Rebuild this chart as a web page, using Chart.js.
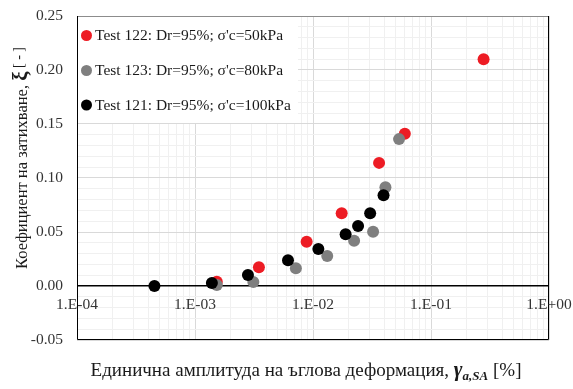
<!DOCTYPE html>
<html>
<head>
<meta charset="utf-8">
<script src="https://cdn.jsdelivr.net/npm/chart.js@4"></script>
<style>
  html, body { margin: 0; padding: 0; background: #fff; }
  #wrap { width: 573px; height: 389px; position: relative; }
</style>
</head>
<body>
<div id="wrap"><canvas id="chart" width="573" height="389"></canvas></div>
<script>
// Shear strain amplitude (%) and damping ratio (-) for each test
const seriesLabels = ["Test 122: Dr=95%; σ'c=50kPa", "Test 123: Dr=95%; σ'c=80kPa", "Test 121: Dr=95%; σ'c=100kPa"];
const seriesColors = ['#ed1c24', '#7f7f7f', '#000000'];

const strain122  = [0.00153, 0.00348, 0.00883, 0.0175, 0.0363, 0.0600, 0.279];
const damping122 = [0.004,   0.0173,  0.041,   0.0673, 0.114,  0.141,  0.210];

const strain123  = [0.00153, 0.00312, 0.00716, 0.0132, 0.0223, 0.0323, 0.0411, 0.0536];
const damping123 = [0.001,   0.0037,  0.0164,  0.0278, 0.042,  0.0503, 0.0914, 0.136];

const strain121  = [0.000453, 0.00139, 0.00281, 0.00614, 0.0111, 0.0189, 0.0241, 0.0305, 0.0396];
const damping121 = [0.0,      0.0028,  0.0102,  0.0238,  0.0343, 0.048,  0.0556, 0.0673, 0.084];

const xTickValues = [1e-4, 1e-3, 1e-2, 1e-1, 1];
const xTickLabels = ['1.E-04', '1.E-03', '1.E-02', '1.E-01', '1.E+00'];
const yMin = -0.05, yMax = 0.25, yStep = 0.01, yLabelStep = 0.05;

const serif = "'Liberation Serif', 'Times New Roman', serif";

function toPoints(xs, ys) { return xs.map((x, i) => ({ x: x, y: ys[i] })); }

const seriesData = [toPoints(strain122, damping122), toPoints(strain123, damping123), toPoints(strain121, damping121)];
// draw order: red at the back, black in front
const drawOrder = [3, 2, 1];

const datasets = seriesLabels.map((label, i) => ({
  label: label,
  data: seriesData[i],
  backgroundColor: seriesColors[i],
  borderWidth: 0,
  pointRadius: 6,
  pointHoverRadius: 6,
  order: drawOrder[i]
}));

function isDecade(v) {
  const l = Math.log10(v);
  return Math.abs(l - Math.round(l)) < 1e-9;
}
function isMultiple(v, step) {
  const r = v / step;
  return Math.abs(r - Math.round(r)) < 1e-6;
}

// legend box in the upper-left corner of the plot
const legendBox = {
  id: 'legendBox',
  beforeDatasetsDraw(chart) {
    const { ctx, chartArea } = chart;
    ctx.save();
    ctx.fillStyle = '#ffffff';
    ctx.fillRect(chartArea.left + 1, chartArea.top + 1, 220, 106);
    ctx.font = '15.5px ' + serif;
    ctx.textBaseline = 'middle';
    ctx.textAlign = 'left';
    const rows = [35.5, 70.5, 105];
    seriesLabels.forEach((label, i) => {
      ctx.fillStyle = seriesColors[i];
      ctx.beginPath();
      ctx.arc(chartArea.left + 9.5, rows[i], 5.5, 0, Math.PI * 2);
      ctx.fill();
      ctx.fillStyle = '#1a1a1a';
      ctx.fillText(label, chartArea.left + 18, rows[i] + 0.5);
    });
    ctx.restore();
  }
};

// frame, x tick labels on the zero line, and axis titles
const decorations = {
  id: 'decorations',
  afterDraw(chart) {
    const { ctx, chartArea, scales } = chart;
    const L = chartArea.left, R = chartArea.right, T = chartArea.top, B = chartArea.bottom;
    ctx.save();
    ctx.lineWidth = 1;
    ctx.strokeStyle = '#8c8c8c';
    ctx.beginPath(); ctx.moveTo(L, T + 0.5); ctx.lineTo(R, T + 0.5); ctx.stroke();
    ctx.strokeStyle = '#000000';
    ctx.beginPath();
    ctx.moveTo(L + 0.5, T); ctx.lineTo(L + 0.5, B - 0.5); ctx.lineTo(R - 0.5, B - 0.5); ctx.lineTo(R - 0.5, T);
    ctx.stroke();

    // x tick labels sit just under the zero line
    const y0 = scales.y.getPixelForValue(0);
    ctx.font = '15.5px ' + serif;
    ctx.fillStyle = '#333333';
    ctx.textAlign = 'center';
    ctx.textBaseline = 'middle';
    xTickValues.forEach((v, i) => {
      ctx.fillText(xTickLabels[i], scales.x.getPixelForValue(v), y0 + 18.5);
    });

    // x axis title with styled symbol
    const parts = [
      { t: 'Единична амплитуда на ъглова деформация, ', f: '19px ' + serif, dy: 0 },
      { t: 'γ', f: 'italic bold 21px ' + serif, dy: 0 },
      { t: 'a,SA', f: 'italic bold 13px ' + serif, dy: 4 },
      { t: ' [%]', f: '19px ' + serif, dy: 0 }
    ];
    let total = 0;
    parts.forEach(p => { ctx.font = p.f; p.w = ctx.measureText(p.t).width; total += p.w; });
    let x = 306 - total / 2;
    ctx.textAlign = 'left';
    ctx.textBaseline = 'alphabetic';
    ctx.fillStyle = '#1a1a1a';
    parts.forEach(p => { ctx.font = p.f; ctx.fillText(p.t, x, 376 + p.dy); x += p.w; });

    // y axis title, rotated
    const yparts = [
      { t: 'Коефициент на затихване, ', f: '16.5px ' + serif, dy: 0 },
      { t: 'ξ', f: 'bold 21px ' + serif, dy: 0 },
      { t: ' [ - ]', f: '14px ' + serif, dy: -4 }
    ];
    ctx.translate(27, 158);
    ctx.rotate(-Math.PI / 2);
    total = 0;
    yparts.forEach(p => { ctx.font = p.f; p.w = ctx.measureText(p.t).width; total += p.w; });
    x = -total / 2;
    yparts.forEach(p => { ctx.font = p.f; ctx.fillText(p.t, x, p.dy); x += p.w; });
    ctx.restore();
  }
};

new Chart(document.getElementById('chart'), {
  type: 'scatter',
  data: { datasets: datasets },
  options: {
    responsive: false,
    animation: false,
    devicePixelRatio: 1,
    layout: { padding: { left: 0, top: 16, right: 24, bottom: 0 } },
    plugins: { legend: { display: false }, tooltip: { enabled: false }, title: { display: false } },
    scales: {
      x: {
        type: 'logarithmic',
        position: 'bottom',
        min: xTickValues[0],
        max: xTickValues[xTickValues.length - 1],
        afterBuildTicks(scale) {
          const ticks = [];
          for (let d = 0; d < xTickValues.length; d++) {
            const base = xTickValues[d];
            ticks.push({ value: base });
            if (d < xTickValues.length - 1) {
              for (let m = 2; m <= 9; m++) ticks.push({ value: base * m });
            }
          }
          scale.ticks = ticks;
        },
        afterFit(scale) { scale.height = 49; },
        ticks: { display: false },
        border: { display: false },
        grid: {
          drawTicks: false,
          color: c => (c.tick && isDecade(c.tick.value)) ? '#d9d9d9' : '#f0f0f0',
          lineWidth: 1
        }
      },
      y: {
        type: 'linear',
        min: yMin,
        max: yMax,
        afterFit(scale) {
          scale.width = 77;
          scale.paddingTop = 0;
          scale.paddingBottom = 0;
        },
        ticks: {
          stepSize: yStep,
          autoSkip: false,
          padding: 14,
          color: '#333333',
          font: { family: serif, size: 15.5 },
          callback: v => isMultiple(v, yLabelStep) ? Number(v).toFixed(2) : ''
        },
        border: { display: false },
        grid: {
          drawTicks: false,
          color: c => {
            const v = c.tick ? c.tick.value : 1;
            if (Math.abs(v) < 1e-9) return '#000000';
            return isMultiple(v, yLabelStep) ? '#d9d9d9' : '#f0f0f0';
          },
          lineWidth: c => (c.tick && Math.abs(c.tick.value) < 1e-9) ? 1.5 : 1
        }
      }
    }
  },
  plugins: [legendBox, decorations]
});
</script>
</body>
</html>
